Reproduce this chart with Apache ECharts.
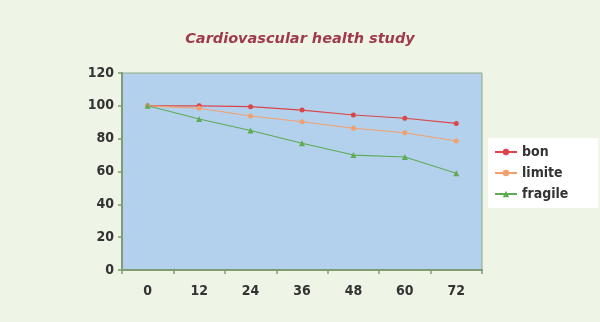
<!DOCTYPE html>
<html>
<head>
<meta charset="utf-8">
<script src="https://cdn.jsdelivr.net/npm/echarts@6/dist/echarts.min.js"></script>
<style>
  html, body { margin: 0; padding: 0; background: #eef5e7; }
  #chart { width: 600px; height: 322px; }
</style>
</head>
<body>
<div id="chart"></div>
<script>
// Follow-up months
const months = ['0', '12', '24', '36', '48', '60', '72'];

// Percentage of each group over time
const bon = [100, 100, 99.5, 97.4, 94.4, 92.4, 89.3];
const limite = [100, 98.5, 93.8, 90.3, 86.3, 83.6, 78.6];
const fragile = [100, 92, 85, 77.2, 70, 68.8, 58.9];

const axisFont = {
  fontFamily: 'DejaVu Sans Condensed',
  fontWeight: 'bold',
  fontSize: 14,
  color: '#333333'
};

const chart = echarts.init(document.getElementById('chart'), null, { renderer: 'canvas' });

function lineSeries(name, data, color, symbol) {
  return {
    name: name,
    type: 'line',
    data: data,
    symbol: symbol,
    symbolSize: symbol === 'triangle' ? 6 : 5,
    lineStyle: { color: color, width: 1.1 },
    itemStyle: { color: color },
    emphasis: { disabled: true }
  };
}

chart.setOption({
  backgroundColor: '#eef5e7',
  animation: false,
  title: {
    text: 'Cardiovascular health study',
    left: 295,
    textAlign: 'center',
    top: 27,
    textStyle: {
      fontFamily: 'DejaVu Sans',
      fontStyle: 'italic',
      fontWeight: 'bold',
      fontSize: 14.5,
      color: '#9e3a4c'
    }
  },
  grid: {
    left: 122,
    right: 118,
    top: 73,
    bottom: 52,
    show: true,
    backgroundColor: '#b3d1ec',
    borderColor: '#8fa882',
    borderWidth: 1
  },
  legend: {
    orient: 'vertical',
    left: 488,
    top: 138,
    width: 112,
    padding: [7, 30, 7, 6],
    backgroundColor: '#ffffff',
    itemGap: 7,
    itemWidth: 22,
    itemHeight: 8,
    textStyle: axisFont,
    data: ['bon', 'limite', 'fragile']
  },
  xAxis: {
    type: 'category',
    data: months,
    boundaryGap: true,
    axisLine: { lineStyle: { color: '#7f9c72', width: 2 } },
    axisTick: { show: true, length: 4, lineStyle: { color: '#7f9c72', width: 1.5 } },
    axisLabel: Object.assign({ margin: 14 }, axisFont)
  },
  yAxis: {
    type: 'value',
    min: 0,
    max: 120,
    interval: 20,
    splitLine: { show: false },
    axisLine: { show: true, lineStyle: { color: '#7f9c72', width: 2 } },
    axisTick: { show: true, length: 4, lineStyle: { color: '#7f9c72', width: 1.5 } },
    axisLabel: Object.assign({ margin: 8 }, axisFont)
  },
  series: [
    lineSeries('bon', bon, '#d9474a', 'circle'),
    lineSeries('limite', limite, '#f2a06e', 'circle'),
    lineSeries('fragile', fragile, '#5faa55', 'triangle')
  ]
});
</script>
</body>
</html>
